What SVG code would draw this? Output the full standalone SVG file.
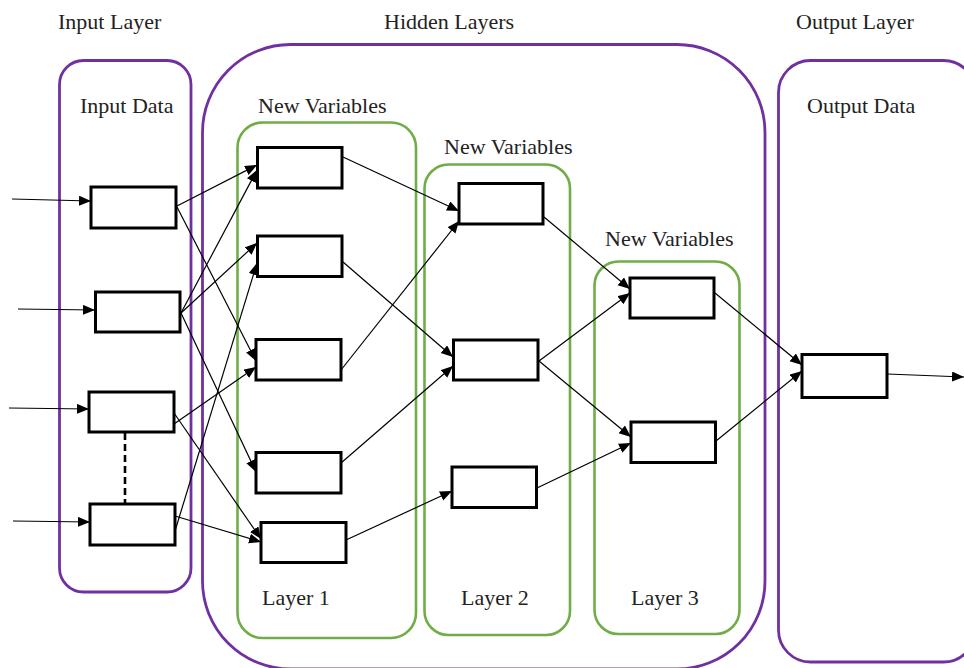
<svg xmlns="http://www.w3.org/2000/svg" width="964" height="668" viewBox="0 0 964 668">
<defs>
<marker id="ah" markerUnits="userSpaceOnUse" markerWidth="13" markerHeight="11" refX="12" refY="5" orient="auto">
<path d="M0,0 L12,5 L0,10 z" fill="#000"/>
</marker>
<style>
.lbl{font-family:"Liberation Serif","Times New Roman",serif;font-size:22px;fill:#222}
.purple{fill:none;stroke:#7030A0;stroke-width:2.8}
.green{fill:none;stroke:#70AD47;stroke-width:2.6}
.node{fill:#fff;stroke:#000;stroke-width:3}
.conn line{stroke:#000;stroke-width:1.2;marker-end:url(#ah)}
</style>
</defs>
<rect width="964" height="668" fill="#fff"/>
<g id="containers">
<g id="input-layer"><rect class="purple" x="59.5" y="60.5" width="131.5" height="531.5" rx="24"/></g>
<g id="hidden-layers"><rect class="purple" x="202.5" y="44.5" width="562.5" height="624.5" rx="88"/></g>
<g id="output-layer"><rect class="purple" x="778.5" y="60.5" width="197" height="601.5" rx="32"/></g>
<g id="layer1"><rect class="green" x="237.5" y="122.5" width="178.5" height="515.5" rx="25"/></g>
<g id="layer2"><rect class="green" x="424.5" y="164.5" width="145.5" height="470.5" rx="24"/></g>
<g id="layer3"><rect class="green" x="594.5" y="261.5" width="145" height="372.5" rx="24"/></g>
</g>
<g id="labels">
<text class="lbl" x="58" y="29">Input Layer</text>
<text class="lbl" x="384" y="29">Hidden Layers</text>
<text class="lbl" x="796" y="29">Output Layer</text>
<text class="lbl" x="80" y="113">Input Data</text>
<text class="lbl" x="258" y="113">New Variables</text>
<text class="lbl" x="444" y="154">New Variables</text>
<text class="lbl" x="605" y="246">New Variables</text>
<text class="lbl" x="807" y="113">Output Data</text>
<text class="lbl" x="262" y="605">Layer 1</text>
<text class="lbl" x="461" y="605">Layer 2</text>
<text class="lbl" x="631" y="605">Layer 3</text>
</g>
<g id="connectors" class="conn">
<line x1="12" y1="199" x2="91" y2="201"/>
<line x1="18" y1="309" x2="95" y2="310"/>
<line x1="9" y1="408" x2="89" y2="409"/>
<line x1="13" y1="521" x2="90" y2="522"/>
<line x1="177" y1="206" x2="257" y2="165"/>
<line x1="177" y1="207" x2="256" y2="361"/>
<line x1="181" y1="313" x2="257" y2="170"/>
<line x1="181" y1="313" x2="257" y2="243"/>
<line x1="181" y1="313" x2="256" y2="472"/>
<line x1="174" y1="424" x2="256" y2="367"/>
<line x1="174" y1="413" x2="261" y2="539"/>
<line x1="175" y1="531" x2="257" y2="263"/>
<line x1="175" y1="516" x2="261" y2="542"/>
<line x1="343" y1="157" x2="459" y2="211"/>
<line x1="343" y1="262" x2="453" y2="357"/>
<line x1="341" y1="370" x2="459" y2="221"/>
<line x1="341" y1="463" x2="453" y2="366"/>
<line x1="346" y1="540" x2="452" y2="491"/>
<line x1="544" y1="217" x2="630" y2="289"/>
<line x1="539" y1="361" x2="630" y2="293"/>
<line x1="539" y1="361" x2="631" y2="437"/>
<line x1="537" y1="488" x2="631" y2="443"/>
<line x1="715" y1="293" x2="802" y2="365"/>
<line x1="716" y1="441" x2="802" y2="371"/>
<line x1="887" y1="374" x2="964" y2="377"/>
<path d="M125,433 L125,503" stroke="#000" stroke-width="2.6" stroke-dasharray="7 4" fill="none"/>
</g>
<g id="nodes">
<g id="in1"><rect class="node" x="91" y="187" width="85" height="41"/></g>
<g id="in2"><rect class="node" x="95.5" y="292" width="84.5" height="40"/></g>
<g id="in3"><rect class="node" x="89" y="392" width="85" height="40"/></g>
<g id="in4"><rect class="node" x="90" y="504" width="85" height="41"/></g>
<g id="h1a"><rect class="node" x="257.5" y="147.5" width="84.5" height="40.5"/></g>
<g id="h1b"><rect class="node" x="257.5" y="236" width="84.5" height="40.5"/></g>
<g id="h1c"><rect class="node" x="256" y="339.5" width="85" height="40.5"/></g>
<g id="h1d"><rect class="node" x="256" y="452.5" width="85" height="40.5"/></g>
<g id="h1e"><rect class="node" x="261" y="522.5" width="85" height="40"/></g>
<g id="h2a"><rect class="node" x="459" y="183.5" width="84" height="40.5"/></g>
<g id="h2b"><rect class="node" x="453.5" y="340" width="84.5" height="40"/></g>
<g id="h2c"><rect class="node" x="452" y="467" width="84.5" height="40.5"/></g>
<g id="h3a"><rect class="node" x="630" y="278" width="84" height="40"/></g>
<g id="h3b"><rect class="node" x="631" y="422" width="84.5" height="40.5"/></g>
<g id="out"><rect class="node" x="802" y="354.5" width="85" height="43"/></g>
</g>
</svg>
